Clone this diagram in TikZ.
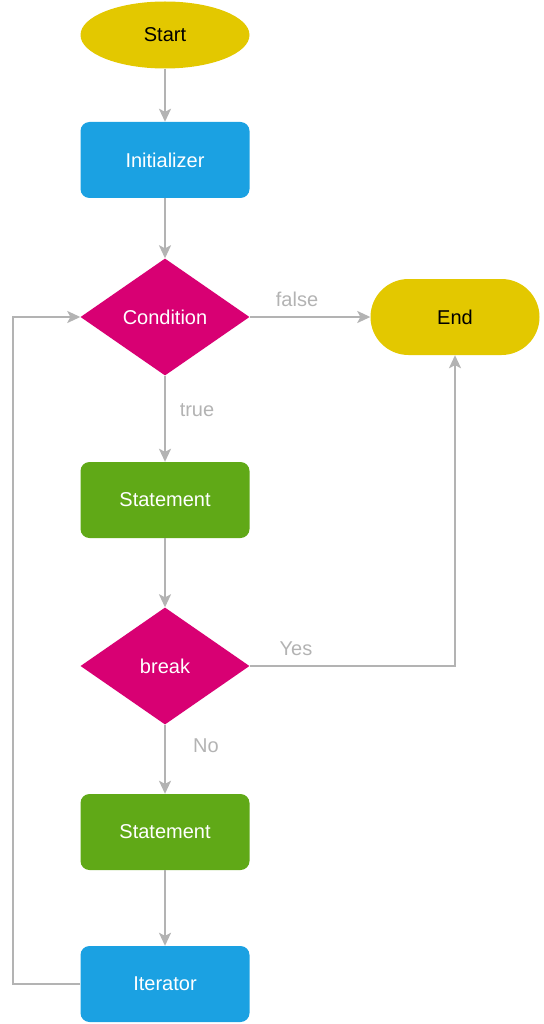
\documentclass[tikz,border=0pt]{standalone}
\usepackage{fontspec}
\setmainfont{Liberation Sans}
\usetikzlibrary{shapes.geometric,shapes.misc,arrows.meta}
\definecolor{cyel}{HTML}{E3C800}
\definecolor{cblue}{HTML}{1BA1E2}
\definecolor{cmag}{HTML}{D80073}
\definecolor{cgreen}{HTML}{60A917}
\definecolor{cline}{HTML}{B3B3B3}
\begin{document}
\begin{tikzpicture}[x=1pt,y=-1pt,
  every node/.style={font=\fontsize{20}{23}\selectfont, inner sep=0pt},
  term/.style={ellipse, fill=cyel, text=black, minimum width=169pt, minimum height=67pt},
  endterm/.style={rounded rectangle, fill=cyel, text=black, minimum width=169pt, minimum height=76pt},
  procbox/.style={rounded corners=9pt, text=white, minimum width=169pt, minimum height=76pt},
  decide/.style={diamond, fill=cmag, text=white, aspect=1.44, minimum width=169pt, minimum height=117pt},
  conn/.style={draw=cline, line width=1.8pt, -{Stealth[length=13pt,width=12pt,inset=3pt]}},
  lbl/.style={text=cline}
]
\useasboundingbox (0,0) rectangle (543,1024);
\node[term] (start) at (165,35) {Start};
\node[procbox, fill=cblue] (init) at (165,160) {Initializer};
\node[decide] (cond) at (165,317) {Condition};
\node[endterm] (end) at (455,317) {End};
\node[procbox, fill=cgreen] (st1) at (165,500) {Statement};
\node[decide] (brk) at (165,666) {break};
\node[procbox, fill=cgreen] (st2) at (165,832) {Statement};
\node[procbox, fill=cblue] (iter) at (165,984) {Iterator};

\coordinate (lb) at (13,984);
\coordinate (lt) at (13,317);
\coordinate (yc) at (455,666);

\draw[conn] (start) -- (init);
\draw[conn] (init) -- (cond);
\draw[conn] (cond) -- (end);
\draw[conn] (cond) -- (st1);
\draw[conn] (st1) -- (brk);
\draw[conn] (brk) -- (st2);
\draw[conn] (st2) -- (iter);
\draw[conn] (brk.east) -- (yc) -- (end.south);
\draw[conn] (iter.west) -- (lb) -- (lt) -- (cond.west);

\node[lbl] (lfalse) at (297,299) {false};
\node[lbl] (ltrue) at (197,410) {true};
\node[lbl] (lyes) at (296,649) {Yes};
\node[lbl] (lno) at (206,746) {No};
\end{tikzpicture}
\end{document}
